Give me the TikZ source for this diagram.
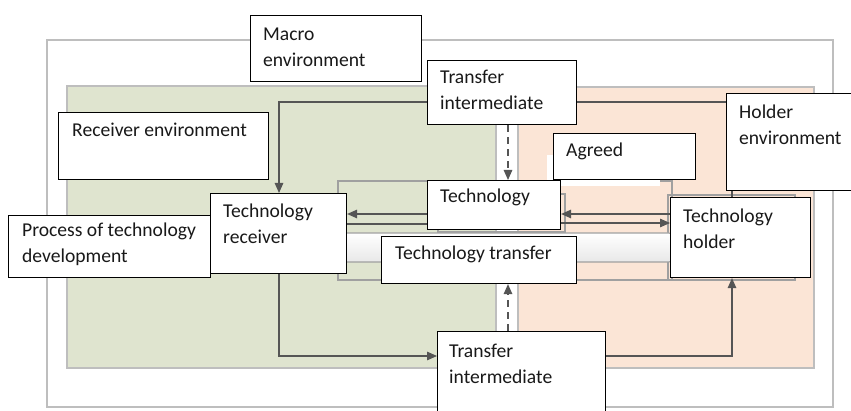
\documentclass[tikz,border=0pt]{standalone}
\usepackage{fontspec}
\setmainfont{Carlito}
\usetikzlibrary{arrows.meta}
\pgfdeclarelayer{bg}
\pgfdeclarelayer{links}
\pgfsetlayers{bg,links,main}
\definecolor{greenenv}{RGB}{223,228,207}
\definecolor{pinkenv}{RGB}{251,229,214}
\definecolor{linkgray}{RGB}{85,85,85}
\definecolor{framegray}{RGB}{190,190,190}
\definecolor{midgray}{RGB}{160,160,160}
\definecolor{txtcol}{RGB}{25,25,25}
\tikzset{
  box/.style={draw=black,fill=white,line width=1.1pt,inner sep=0pt,anchor=north west},
  txt/.style={anchor=base west,align=left,inner sep=0pt,text=txtcol,font=\fontsize{19.6}{26}\selectfont},
  link/.style={draw=linkgray,line width=1.2pt},
  arr/.style={link,-{Triangle[length=10pt,width=8.5pt]}},
  dasharr/.style={arr,dash pattern=on 7pt off 5pt},
}
\begin{document}
\begin{tikzpicture}[x=1pt,y=-1pt]
\useasboundingbox (0,0) rectangle (851,411);
% boxes
\node[box,minimum width=171pt,minimum height=66pt] (macro) at (250,15) {};
\node[box,minimum width=210pt,minimum height=67pt] (recvenv) at (58,112) {};
\node[box,minimum width=149pt,minimum height=64pt] (tit) at (427,60) {};
\node[box,minimum width=129pt,minimum height=97pt] (holdenv) at (726,93) {};
\node[box,minimum width=142pt,minimum height=46pt] (agreed) at (553,133) {};
\node[box,minimum width=133pt,minimum height=49pt] (tech) at (427,180) {};
\node[box,minimum width=195pt,minimum height=47pt] (tt) at (381,236) {};
\node[box,minimum width=136pt,minimum height=80pt] (recv) at (210,193) {};
\node[box,minimum width=202pt,minimum height=62pt] (proc) at (8,215) {};
\node[box,minimum width=140pt,minimum height=80pt] (holder) at (670,197) {};
\node[box,minimum width=168pt,minimum height=89pt] (tib) at (437,331) {};
% texts (base anchor = baseline of the last line)
\node[txt] (macro-t) at ([xshift=13pt,yshift=-52pt]macro.north west) {Macro\\environment};
\node[txt] (recvenv-t) at ([xshift=14pt,yshift=-25pt]recvenv.north west) {Receiver environment};
\node[txt] (tit-t) at ([xshift=13pt,yshift=-50pt]tit.north west) {Transfer\\intermediate};
\node[txt] (holdenv-t) at ([xshift=13pt,yshift=-52pt]holdenv.north west) {Holder\\environment};
\node[txt] (agreed-t) at ([xshift=13pt,yshift=-24pt]agreed.north west) {Agreed};
\node[txt] (tech-t) at ([xshift=13pt,yshift=-23pt]tech.north west) {Technology};
\node[txt] (tt-t) at ([xshift=14pt,yshift=-24pt]tt.north west) {Technology transfer};
\node[txt] (recv-t) at ([xshift=13pt,yshift=-51pt]recv.north west) {Technology\\receiver};
\node[txt] (proc-t) at ([xshift=14pt,yshift=-48pt]proc.north west) {Process of technology\\development};
\node[txt] (holder-t) at ([xshift=13pt,yshift=-52pt]holder.north west) {Technology\\holder};
\node[txt] (tib-t) at ([xshift=12pt,yshift=-52pt]tib.north west) {Transfer\\intermediate};
% bend points
\coordinate (cTR) at (732,102);
\coordinate (cTL) at (279,102);
\coordinate (cBL) at (279,356);
\coordinate (cBR) at (732,356);
\coordinate (cD) at (508,150);
\coordinate (cA) at (400,214);
\coordinate (cB) at (400,224);
\coordinate (cC) at (600,214);
\coordinate (cE) at (600,223);
\begin{pgfonlayer}{bg}
  \draw[draw=framegray,line width=1.5pt,fill=white] (47,40) rectangle (833,407);
  \draw[draw=framegray,line width=1.2pt,fill=greenenv] (67,86) rectangle (496,368);
  \draw[draw=framegray,line width=1.2pt,fill=pinkenv] (518,87) rectangle (814,368);
  \draw[draw=midgray,line width=2pt] (338,181) rectangle (672,280);
  \draw[draw=midgray,line width=1.5pt] (438,194) rectangle (565,232);
  \draw[draw=midgray,line width=1.5pt] (668,195) rectangle (795,280);
  \shade[top color=white,bottom color=gray!18,draw=midgray,line width=1.2pt,rounded corners=14pt] (320,233) rectangle (682,262);
  \fill[white] (547,155) rectangle (660,186);
\end{pgfonlayer}
\begin{pgfonlayer}{links}
  \draw[arr] (holder.north -| cTR) -- (cTR) -- (cTL) -- (recv.north -| cTL);
  \draw[arr] (recv.south -| cBL) -- (cBL) -- (tib.west |- cBL);
  \draw[arr] (tib.east |- cBR) -- (cBR) -- (holder.south -| cBR);
  \draw[dasharr] (tit.south -| cD) -- (tech.north -| cD);
  \draw[dasharr] (tib.north -| cD) -- (tt.south -| cD);
  \draw[arr] (tech.west |- cA) -- (recv.east |- cA);
  \draw[link] (recv.east |- cB) -- (tech.west |- cB);
  \draw[arr] (holder.west |- cC) -- (tech.east |- cC);
  \draw[arr] (tech.east |- cE) -- (holder.west |- cE);
\end{pgfonlayer}
\end{tikzpicture}
\end{document}
